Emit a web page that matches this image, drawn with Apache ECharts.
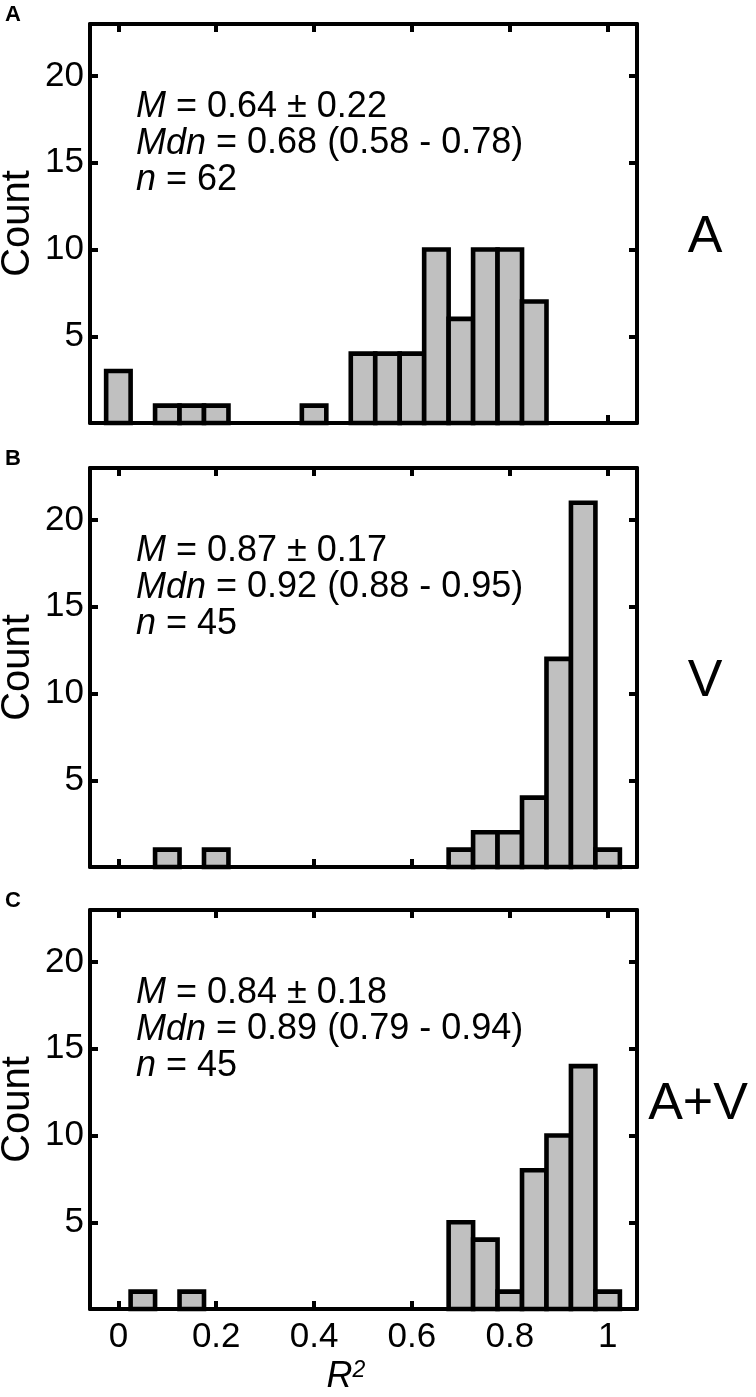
<!DOCTYPE html>
<html>
<head>
<meta charset="utf-8">
<script src="https://cdn.jsdelivr.net/npm/echarts@6/dist/echarts.min.js"></script>
<style>
html,body{margin:0;padding:0;background:#fff;}
#chart{width:756px;height:1397px;}
</style>
</head>
<body>
<div id="chart"></div>
<script>
// ---- data ----
var binWidth = 0.05;
var centersA = [0, 0.1, 0.15, 0.2, 0.4, 0.5, 0.55, 0.6, 0.65, 0.7, 0.75, 0.8, 0.85];
var countsA  = [3, 1, 1, 1, 1, 4, 4, 4, 10, 6, 10, 10, 7];
var centersV = [0.1, 0.2, 0.7, 0.75, 0.8, 0.85, 0.9, 0.95, 1.0];
var countsV  = [1, 1, 1, 2, 2, 4, 12, 21, 1];
var centersAV = [0.05, 0.15, 0.7, 0.75, 0.8, 0.85, 0.9, 0.95, 1.0];
var countsAV  = [1, 1, 5, 4, 1, 8, 10, 14, 1];
var xTicks = [0, 0.2, 0.4, 0.6, 0.8, 1];
var yTicks = [5, 10, 15, 20];
var panelLetters = ['A', 'B', 'C'];
var conditionLabels = ['A', 'V', 'A+V'];
var statLines = [
  ['M|= 0.64 \u00b1 0.22', 'Mdn|= 0.68 (0.58 - 0.78)', 'n|= 62'],
  ['M|= 0.87 \u00b1 0.17', 'Mdn|= 0.92 (0.88 - 0.95)', 'n|= 45'],
  ['M|= 0.84 \u00b1 0.18', 'Mdn|= 0.89 (0.79 - 0.94)', 'n|= 45']
];

var FONT = '"Liberation Sans", Arial, Helvetica, sans-serif';
var chart = echarts.init(document.getElementById('chart'), null, {renderer: 'canvas'});

var panels = [
  {centers: centersA, counts: countsA},
  {centers: centersV, counts: countsV},
  {centers: centersAV, counts: countsAV}
];
var gridTops = [24, 468, 910];
var gridH = 399;
var gridLeft = 90, gridW = 547;

var grids = [], xAxes = [], yAxes = [], series = [], graphics = [];
var lineStyle = {color: '#000', width: 4};

panels.forEach(function (p, i) {
  grids.push({left: gridLeft, top: gridTops[i], width: gridW, height: gridH, containLabel: false});
  var isLast = i === 2;
  xAxes.push({
    gridIndex: i, type: 'value', position: 'bottom', min: -0.058, max: 1.06,
    axisLine: {show: true, onZero: false, lineStyle: lineStyle},
    axisTick: {show: true, inside: true, length: 8, lineStyle: lineStyle, customValues: xTicks},
    axisLabel: {show: isLast, customValues: xTicks, color: '#000', fontSize: 35, fontFamily: FONT, margin: 11,
      formatter: function (v) { return String(Math.round(v * 10) / 10); }},
    splitLine: {show: false}
  });
  xAxes.push({
    gridIndex: i, type: 'value', position: 'top', min: -0.058, max: 1.06,
    axisLine: {show: true, onZero: false, lineStyle: lineStyle},
    axisTick: {show: true, inside: true, length: 8, lineStyle: lineStyle, customValues: xTicks},
    axisLabel: {show: false},
    splitLine: {show: false}
  });
  yAxes.push({
    gridIndex: i, type: 'value', position: 'left', min: 0, max: 23,
    axisLine: {show: true, onZero: false, lineStyle: lineStyle},
    axisTick: {show: true, inside: true, length: 8, lineStyle: lineStyle, customValues: yTicks},
    axisLabel: {show: true, customValues: yTicks, color: '#000', fontSize: 35, fontFamily: FONT, margin: 6},
    splitLine: {show: false}
  });
  yAxes.push({
    gridIndex: i, type: 'value', position: 'right', min: 0, max: 23,
    axisLine: {show: true, onZero: false, lineStyle: lineStyle},
    axisTick: {show: true, inside: true, length: 8, lineStyle: lineStyle, customValues: yTicks},
    axisLabel: {show: false},
    splitLine: {show: false}
  });
  var data = p.centers.map(function (c, k) { return [c, p.counts[k]]; });
  series.push({
    type: 'custom', xAxisIndex: i * 2, yAxisIndex: i * 2, z: 3,
    data: data,
    renderItem: function (params, api) {
      var x = api.value(0), y = api.value(1);
      var p0 = api.coord([x - binWidth / 2, y]);
      var p1 = api.coord([x + binWidth / 2, 0]);
      return {
        type: 'rect',
        shape: {x: p0[0], y: p0[1], width: p1[0] - p0[0], height: p1[1] - p0[1]},
        style: {fill: '#c0c0c0', stroke: '#000', lineWidth: 4.6, lineJoin: 'miter'}
      };
    }
  });

  var top = gridTops[i];
  // panel letter
  graphics.push({type: 'text', x: 5, y: top - 9,
    style: {text: panelLetters[i], font: 'bold 22px ' + FONT, fill: '#000', verticalAlign: 'middle'}});
  // Count label
  graphics.push({type: 'text', x: 18, y: top + gridH / 2, rotation: Math.PI / 2,
    style: {text: 'Count', font: '40px ' + FONT, fill: '#000', align: 'center', verticalAlign: 'middle'}});
  // condition label
  graphics.push({type: 'text', x: i === 2 ? 698 : 705, y: top + (i === 2 ? 195 : 214),
    style: {text: conditionLabels[i], font: '52px ' + FONT, fill: '#000', align: 'center', verticalAlign: 'middle'}});
  // stats
  statLines[i].forEach(function (ln, k) {
    var parts = ln.split('|');
    graphics.push({type: 'text', x: 136, y: top + 83 + k * 36.5,
      style: {
        text: '{i|' + parts[0] + '} ' + parts[1],
        font: '36px ' + FONT, fill: '#000', verticalAlign: 'middle', align: 'left',
        rich: {i: {fontStyle: 'italic', fontSize: 36, fontFamily: FONT}}
      }});
  });
});

// x-axis title R^2
graphics.push({type: 'text', x: 346, y: 1377,
  style: {text: '{i|R}{s|2}', fill: '#000', align: 'center', verticalAlign: 'middle',
    rich: {i: {fontStyle: 'italic', fontSize: 36, fontFamily: FONT},
           s: {fontStyle: 'italic', fontSize: 23, fontFamily: FONT, verticalAlign: 'top'}}}});

chart.setOption({
  animation: false,
  backgroundColor: '#fff',
  grid: grids,
  xAxis: xAxes,
  yAxis: yAxes,
  series: series,
  graphic: graphics
});
</script>
</body>
</html>
